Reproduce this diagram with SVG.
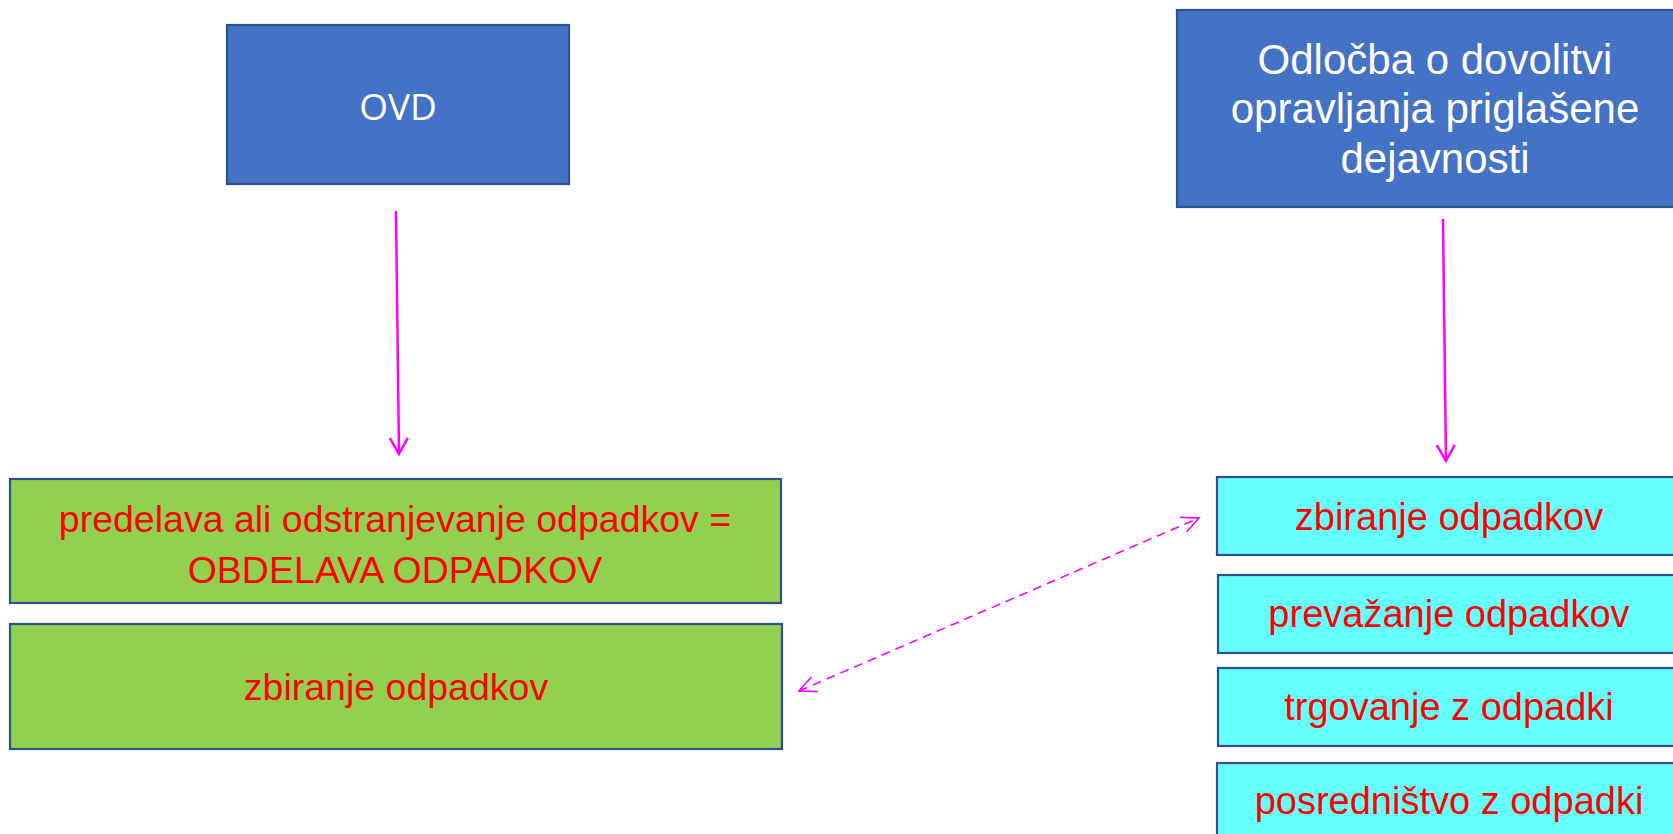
<svg xmlns="http://www.w3.org/2000/svg" width="1673" height="834" viewBox="0 0 1673 834">
<style>
.box{stroke:#2F528F;stroke-width:2.2}
.blue{fill:#4472C4}
.green{fill:#92D050}
.cyan{fill:#66FFFF}
.wt{fill:#FFFFFF;font-family:"Liberation Sans",Arial,sans-serif;text-anchor:middle}
.rt{fill:#FF0000;font-family:"Liberation Sans",Arial,sans-serif;text-anchor:middle}
.conn{stroke:#FF00FF;fill:none}
</style>
<defs>
<marker id="ah" markerUnits="userSpaceOnUse" viewBox="-18 -11 20 22" refX="0" refY="0" markerWidth="20" markerHeight="22" orient="auto" overflow="visible">
<path d="M-16,-9 L0,0 L-16,9" fill="none" stroke="#FF00FF" stroke-width="2.5"/>
</marker>
<marker id="ahd" markerUnits="userSpaceOnUse" viewBox="-18 -10 20 20" refX="0" refY="0" markerWidth="20" markerHeight="20" orient="auto-start-reverse" overflow="visible">
<path d="M-17,-8 L0,0 L-17,8" fill="none" stroke="#FF00FF" stroke-width="1.6"/>
</marker>
</defs>
<rect width="1673" height="834" fill="#FFFFFF"/>
<g id="ovd">
<rect class="box blue" x="227" y="25" width="342" height="159"/>
<text class="wt" x="398" y="120" font-size="37" style="font-family:'Open Sans','Liberation Sans',sans-serif">OVD</text>
</g>
<g id="odlocba">
<rect class="box blue" x="1177" y="10" width="520" height="197"/>
<text class="wt" font-size="42"><tspan x="1435" y="74">Odločba o dovolitvi</tspan><tspan x="1435" y="123">opravljanja priglašene</tspan><tspan x="1435" y="173">dejavnosti</tspan></text>
</g>
<g id="obdelava">
<rect class="box green" x="10" y="479" width="771" height="124"/>
<text class="rt" font-size="37.5"><tspan x="395" y="532">predelava ali odstranjevanje odpadkov =</tspan><tspan x="395" y="583">OBDELAVA ODPADKOV</tspan></text>
</g>
<g id="zbiranje-left">
<rect class="box green" x="10" y="624" width="772" height="125"/>
<text class="rt" x="396" y="700" font-size="37.5">zbiranje odpadkov</text>
</g>
<g id="zbiranje-right">
<rect class="box cyan" x="1217" y="477" width="466" height="78"/>
<text class="rt" x="1449" y="530" font-size="38">zbiranje odpadkov</text>
</g>
<g id="prevazanje">
<rect class="box cyan" x="1218" y="575" width="466" height="78"/>
<text class="rt" x="1449" y="627" font-size="38">prevažanje odpadkov</text>
</g>
<g id="trgovanje">
<rect class="box cyan" x="1218" y="668" width="466" height="78"/>
<text class="rt" x="1449" y="720" font-size="38">trgovanje z odpadki</text>
</g>
<g id="posrednistvo">
<rect class="box cyan" x="1217" y="763" width="466" height="90"/>
<text class="rt" x="1449" y="814" font-size="38">posredništvo z odpadki</text>
</g>
<g id="connectors">
<line class="conn" x1="396" y1="211" x2="399" y2="454" stroke-width="2.5" marker-end="url(#ah)"/>
<line class="conn" x1="1443" y1="219" x2="1446" y2="461" stroke-width="2.5" marker-end="url(#ah)"/>
<line class="conn" x1="799" y1="691" x2="1199" y2="518" stroke-width="1.6" stroke-dasharray="9,6" marker-start="url(#ahd)" marker-end="url(#ahd)"/>
</g>
</svg>
